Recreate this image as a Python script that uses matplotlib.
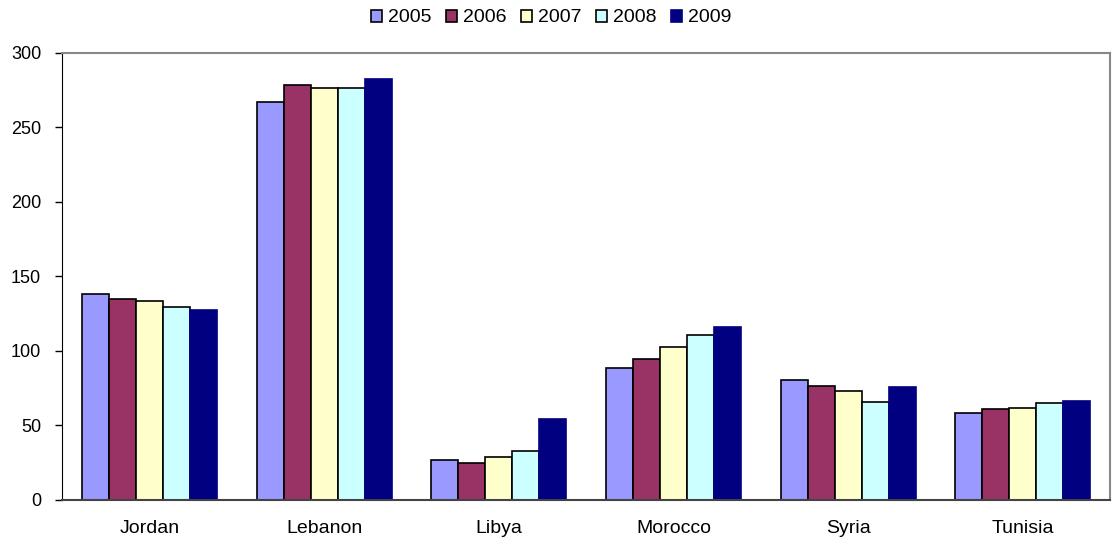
import matplotlib.pyplot as plt
import numpy as np

plt.rcParams['font.family'] = ['Liberation Sans', 'DejaVu Sans']

countries = ['Jordan', 'Lebanon', 'Libya', 'Morocco', 'Syria', 'Tunisia']
years = ['2005', '2006', '2007', '2008', '2009']

# values per year, one entry per country
v2005 = [138, 267, 26.3, 88, 80.5, 58]
v2006 = [134.5, 278.5, 24.3, 94, 76.2, 60.5]
v2007 = [133.5, 276.5, 28.3, 102.6, 73, 61.4]
v2008 = [129.2, 276.5, 32.6, 110.2, 65.5, 64.5]
v2009 = [127.4, 282, 54, 116, 75.5, 65.9]
series = [v2005, v2006, v2007, v2008, v2009]

colors = ['#9999ff', '#993366', '#ffffcc', '#ccffff', '#000080']
edges = ['black', 'black', 'black', 'black', '#000080']

fig = plt.figure(figsize=(11.15, 5.43), dpi=100)
ax = fig.add_axes([0.0556, 0.0801, 0.94, 0.8232])

x = np.arange(len(countries))
group = 0.773
bw = group / len(years)
for i, vals in enumerate(series):
    pos = x - group / 2 + bw * (i + 0.5)
    ax.bar(pos, vals, width=bw, color=colors[i], edgecolor=edges[i],
           linewidth=1.2, label=years[i])

ax.set_xlim(-0.5, len(countries) - 0.5)
ax.set_ylim(0, 300)
ax.set_yticks(range(0, 301, 50))
ax.set_xticks(x)
ax.set_xticklabels(countries)
ax.tick_params(axis='x', length=0, labelsize=14, pad=15)
ax.tick_params(axis='y', length=5, width=1, labelsize=13, pad=10)

for side in ['top', 'right']:
    ax.spines[side].set_color('#888888')
    ax.spines[side].set_linewidth(1.5)
ax.spines['left'].set_color('black')
ax.spines['bottom'].set_color('#444444')
ax.spines['bottom'].set_linewidth(1.5)

fig.legend(loc='center', bbox_to_anchor=(0.494, 0.967), ncol=5,
           frameon=False, fontsize=14, handlelength=0.57, handleheight=0.57,
           handletextpad=0.3, columnspacing=0.75, borderpad=0)

plt.savefig('out.png', dpi=100)
